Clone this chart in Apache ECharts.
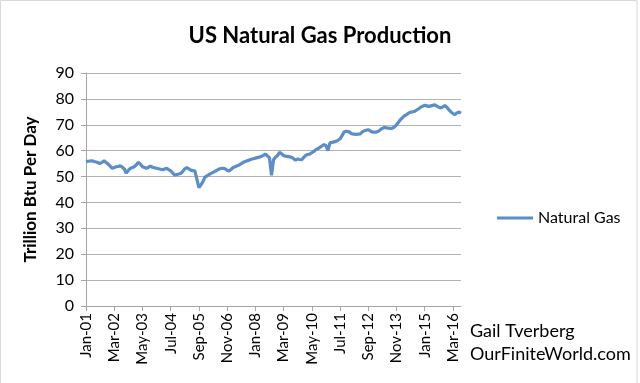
<!DOCTYPE html>
<html>
<head>
<meta charset="utf-8">
<script src="https://cdn.jsdelivr.net/npm/echarts@6/dist/echarts.min.js"></script>
<style>html,body{margin:0;padding:0;background:#fff}#c{width:640px;height:383px}</style>
</head>
<body>
<div id="c"></div>
<script>
const monthNames = ['Jan','Feb','Mar','Apr','May','Jun','Jul','Aug','Sep','Oct','Nov','Dec'];
const startYear = 2001;
const monthCount = 187; // Jan-01 .. Jul-16
const categories = [];
for (let i = 0; i < monthCount; i++) {
  const y = startYear + Math.floor(i / 12);
  categories.push(monthNames[i % 12] + '-' + String(y % 100).padStart(2, '0'));
}
const naturalGas = [
  55.7, 55.9, 56.0, 56.1, 55.8, 55.6, 55.3, 55.1, 55.5, 56.1, 55.4, 54.8,
  54.0, 53.2, 53.5, 53.8, 53.9, 54.2, 53.6, 52.9, 51.3, 52.4, 53.2, 53.5,
  53.8, 54.6, 55.5, 54.8, 53.8, 53.5, 53.2, 53.6, 54.0, 53.6, 53.4, 53.2,
  53.0, 52.8, 52.6, 52.9, 53.2, 52.7, 52.2, 51.4, 50.5, 50.8, 51.0, 51.2,
  52.0, 53.0, 53.5, 53.0, 52.5, 52.3, 52.2, 49.0, 45.7, 46.8, 48.0, 49.8,
  50.3, 50.8, 51.2, 51.6, 52.0, 52.5, 52.9, 53.1, 53.2, 53.0, 52.4, 52.2,
  52.8, 53.5, 53.8, 54.2, 54.5, 55.0, 55.5, 55.8, 56.1, 56.4, 56.7, 56.9,
  57.1, 57.3, 57.5, 57.8, 58.2, 58.7, 58.0, 57.2, 50.5, 56.5, 57.5, 58.1,
  59.4, 58.8, 58.1, 57.9, 57.8, 57.6, 57.4, 56.9, 56.3, 56.8, 56.6, 56.5,
  57.4, 58.2, 58.5, 58.7, 59.2, 59.7, 60.4, 60.8, 61.3, 61.8, 62.3, 62.0,
  60.0, 63.0, 63.2, 63.4, 63.6, 64.0, 64.6, 65.8, 67.2, 67.5, 67.4, 67.0,
  66.5, 66.4, 66.3, 66.4, 66.5, 67.2, 67.7, 67.9, 68.1, 67.6, 67.2, 67.2,
  67.2, 67.5, 68.1, 68.6, 69.0, 68.8, 68.7, 68.6, 68.7, 69.2, 70.0, 71.0,
  72.0, 72.8, 73.5, 73.9, 74.5, 74.9, 75.0, 75.2, 75.7, 76.2, 76.8, 77.2,
  77.5, 77.3, 77.1, 77.3, 77.5, 77.7, 77.2, 76.8, 76.5, 76.9, 77.4, 76.8,
  75.8, 75.0, 74.3, 73.9, 74.6, 74.9, 74.5
];
const yTicks = [0, 10, 20, 30, 40, 50, 60, 70, 80, 90];
const titleText = 'US Natural Gas Production';
const yAxisName = 'Trillion Btu Per Day';
const seriesName = 'Natural Gas';
const creditLines = ['Gail Tverberg', 'OurFiniteWorld.com'];

const font = 'Lato, "Open Sans", sans-serif';
const chart = echarts.init(document.getElementById('c'), null, {renderer: 'canvas'});
chart.setOption({
  backgroundColor: '#fff',
  animation: false,
  title: {
    text: titleText, left: 'center', top: 20,
    textStyle: {fontFamily: font, fontWeight: 'bold', fontSize: 22, color: '#000'}
  },
  legend: {
    data: [seriesName], orient: 'vertical', left: 492, top: 205,
    itemWidth: 36, itemHeight: 3, itemGap: 4,
    icon: 'rect',
    textStyle: {fontFamily: font, fontSize: 16, color: '#000'}
  },
  grid: {left: 86, right: 179, top: 73, bottom: 77, containLabel: false},
  xAxis: {
    type: 'category', data: categories, boundaryGap: false,
    axisLine: {lineStyle: {color: '#a6a6a6', width: 1}},
    axisTick: {show: true, interval: 13, length: 5, lineStyle: {color: '#a6a6a6'}},
    axisLabel: {interval: 13, rotate: 90, fontFamily: font, fontSize: 15, color: '#000', margin: 7},
    splitLine: {show: false}
  },
  yAxis: {
    type: 'value', min: 0, max: 90, interval: 10,
    name: yAxisName, nameLocation: 'middle', nameGap: 47, nameRotate: 90,
    nameTextStyle: {fontFamily: font, fontWeight: 'bold', fontSize: 17, color: '#000'},
    axisLine: {show: true, lineStyle: {color: '#a6a6a6', width: 1}},
    axisTick: {show: true, length: 5, lineStyle: {color: '#a6a6a6'}},
    axisLabel: {fontFamily: font, fontSize: 16, color: '#000', margin: 12,
      formatter: v => yTicks.includes(v) ? String(v) : ''},
    splitLine: {show: true, lineStyle: {color: '#b3b3b3', width: 1}}
  },
  graphic: [
    {type: 'rect', shape: {x: 0.5, y: 0.5, width: 636.5, height: 400}, style: {fill: 'none', stroke: '#d9d9d9', lineWidth: 1}, silent: true},
    {type: 'text', left: 470, top: 322, style: {text: creditLines[0], font: '18px ' + font, fill: '#000'}},
    {type: 'text', left: 470, top: 345, style: {text: creditLines[1], font: '18px ' + font, fill: '#000'}}
  ],
  series: [{
    name: seriesName, type: 'line', data: naturalGas, showSymbol: false, symbol: 'none',
    lineStyle: {color: '#5b8ec8', width: 3.2}, itemStyle: {color: '#5b8ec8'}
  }]
});
</script>
</body>
</html>
